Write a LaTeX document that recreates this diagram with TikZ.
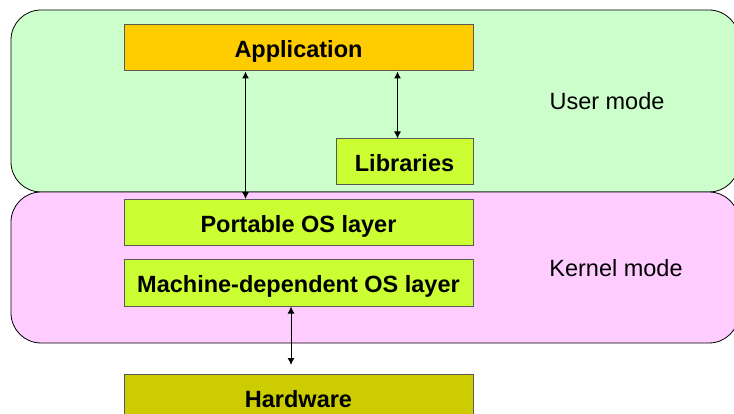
\documentclass[tikz,border=0pt]{standalone}
\usepackage{fontspec}
\setmainfont{Liberation Sans}
\usetikzlibrary{arrows.meta}

\definecolor{usergreen}{HTML}{CCFFCC}
\definecolor{kernelpink}{HTML}{FFCCFF}
\definecolor{appyellow}{HTML}{FFCC00}
\definecolor{layerlime}{HTML}{CCFF33}
\definecolor{hwolive}{HTML}{CCCC00}

\tikzset{
	modearea/.style={draw=black, line width=0.8pt, rounded corners=30pt},
	layerbox/.style={draw=black!65, line width=1pt, inner sep=0pt,
		minimum height=46pt, text height=20pt, text depth=0pt,
		font=\fontsize{23.5}{28}\selectfont\bfseries},
	modelabel/.style={inner sep=0pt, font=\fontsize{23.5}{28}\selectfont},
	link/.style={{Latex[length=7pt,width=7pt]}-{Latex[length=7pt,width=7pt]}, line width=1pt}
}

\begin{document}
\begin{tikzpicture}[x=1pt, y=-1pt]
	\useasboundingbox (0,0) rectangle (734,414);
	% the two modes
	\draw[modearea, fill=usergreen] (11,10) rectangle (739,192);
	\draw[modearea, fill=kernelpink] (11,192) rectangle (739,343);
	\node[modelabel] (user) at (607,101) {User mode};
	\node[modelabel] (kernel) at (616,268) {Kernel mode};
	% layers
	\node[layerbox, fill=appyellow, minimum width=349pt] (app) at (298.5,48) {Application};
	\node[layerbox, fill=layerlime, minimum width=137pt] (lib) at (404.5,162) {Libraries};
	\node[layerbox, fill=layerlime, minimum width=349pt] (portable) at (298.5,222.5) {Portable OS layer};
	\node[layerbox, fill=layerlime, minimum width=349pt] (machine) at (298.5,283) {Machine-dependent OS layer};
	\node[layerbox, fill=hwolive, minimum width=349pt] (hw) at (298.5,397) {Hardware};
	\coordinate (hwlink) at (291,365);
	% links
	\draw[link] ([xshift=122pt]app.south west) -- ([xshift=122pt]portable.north west);
	\draw[link] ([xshift=-7pt]lib.north |- app.south) -- ([xshift=-7pt]lib.north);
	\draw[link] ([xshift=-7.5pt]machine.south) -- (hwlink);
\end{tikzpicture}
\end{document}
